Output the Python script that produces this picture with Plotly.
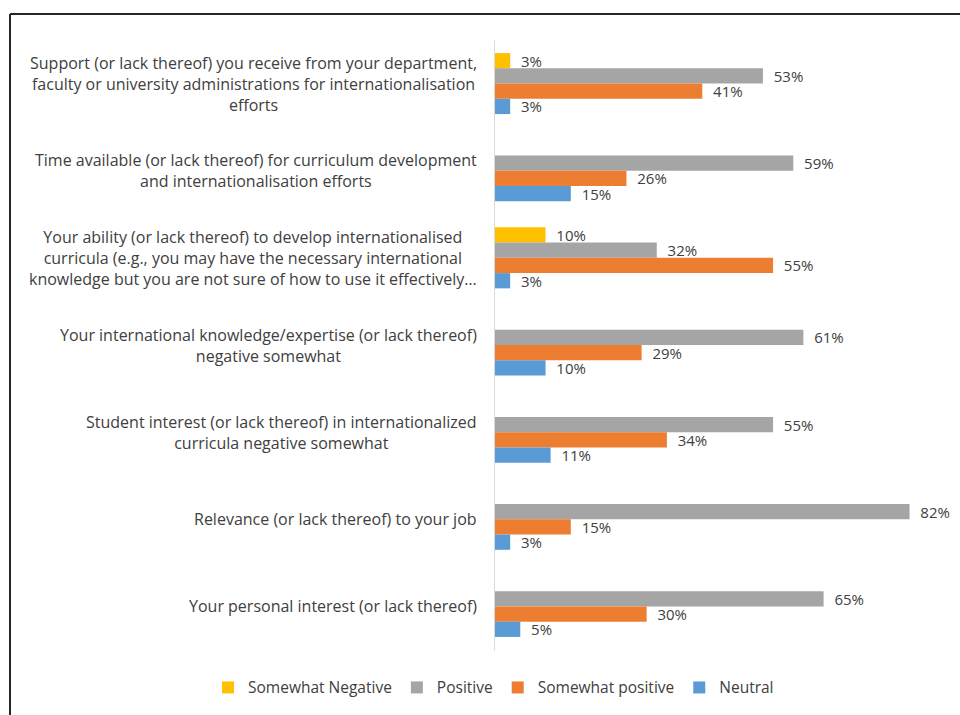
import plotly.graph_objects as go

categories = [
    "Support (or lack thereof) you receive from your department,<br>faculty or university administrations for internationalisation<br>efforts",
    "Time available (or lack thereof) for curriculum development<br>and internationalisation efforts",
    "Your ability (or lack thereof) to develop internationalised<br>curricula (e.g., you may have the necessary international<br>knowledge but you are not sure of how to use it effectively…",
    "Your international knowledge/expertise (or lack thereof)<br>negative somewhat",
    "Student interest (or lack thereof) in internationalized<br>curricula negative somewhat",
    "Relevance (or lack thereof) to your job",
    "Your personal interest (or lack thereof)",
]
cat_keys = ["c%d" % i for i in range(len(categories))]

somewhat_negative = [3, None, 10, None, None, None, None]
positive = [53, 59, 32, 61, 55, 82, 65]
somewhat_positive = [41, 26, 55, 29, 34, 15, 30]
neutral = [3, 15, 3, 10, 11, 3, 5]

series = [
    ("Somewhat Negative", somewhat_negative, "#FFC000"),
    ("Positive", positive, "#A5A5A5"),
    ("Somewhat positive", somewhat_positive, "#ED7D31"),
    ("Neutral", neutral, "#5B9BD5"),
]

FONT = "Open Sans"
TXT = "#404040"
FS = 16

W, H = 960, 715
ML, MR, MT, MB = 495, 10, 40, 63
PW = W - ML - MR
PH = H - MT - MB

fig = go.Figure()
for name, vals, col in series:
    fig.add_trace(go.Bar(
        y=cat_keys, x=vals, name=name, orientation="h",
        marker=dict(color=col, line=dict(width=0)),
        text=[None if v is None else "\u00a0\u00a0%d%%" % v for v in vals],
        textposition="outside", cliponaxis=False, constraintext="none",
        textfont=dict(family=FONT, size=15, color=TXT),
        hoverinfo="skip",
    ))

for key, label in zip(cat_keys, categories):
    fig.add_annotation(
        x=0, xref="paper", y=key, yref="y", text=label,
        xanchor="right", yanchor="middle", align="center", xshift=-16,
        showarrow=False, font=dict(family=FONT, size=FS, color=TXT),
    )

# outer frame (top and left edges)
x_left = (10 - ML) / PW
y_top = 1 + (MT - 14) / PH
fig.add_shape(type="line", xref="paper", yref="paper",
              x0=x_left, x1=1.2, y0=y_top, y1=y_top,
              line=dict(color="#262626", width=2), layer="below")
fig.add_shape(type="line", xref="paper", yref="paper",
              x0=x_left, x1=x_left, y0=-0.3, y1=y_top,
              line=dict(color="#262626", width=2), layer="below")

fig.update_layout(
    width=W, height=H,
    margin=dict(l=ML, r=MR, t=MT, b=MB),
    paper_bgcolor="white", plot_bgcolor="white",
    barmode="group", bargap=0.30, bargroupgap=0,
    font=dict(family=FONT, size=FS, color=TXT),
    showlegend=True,
    legend=dict(orientation="h", xref="paper", yref="paper",
                x=(208 - ML) / PW, xanchor="left", y=-(690 - (MT + PH)) / PH, yanchor="middle",
                font=dict(family=FONT, size=15.5, color=TXT), traceorder="normal",
                itemwidth=30, bgcolor="rgba(0,0,0,0)"),
    xaxis=dict(range=[0, 90], showgrid=False, zeroline=False, showticklabels=False,
               showline=False, fixedrange=True),
    yaxis=dict(autorange="reversed", showgrid=False, zeroline=False, showticklabels=False,
               showline=True, linecolor="#D9D9D9", linewidth=1, ticks="", fixedrange=True),
)

fig.write_html(
    "out.html",
    config={"displayModeBar": False, "staticPlot": True},
    post_script="document.body.style.margin='0';document.body.style.overflow='hidden';",
)
